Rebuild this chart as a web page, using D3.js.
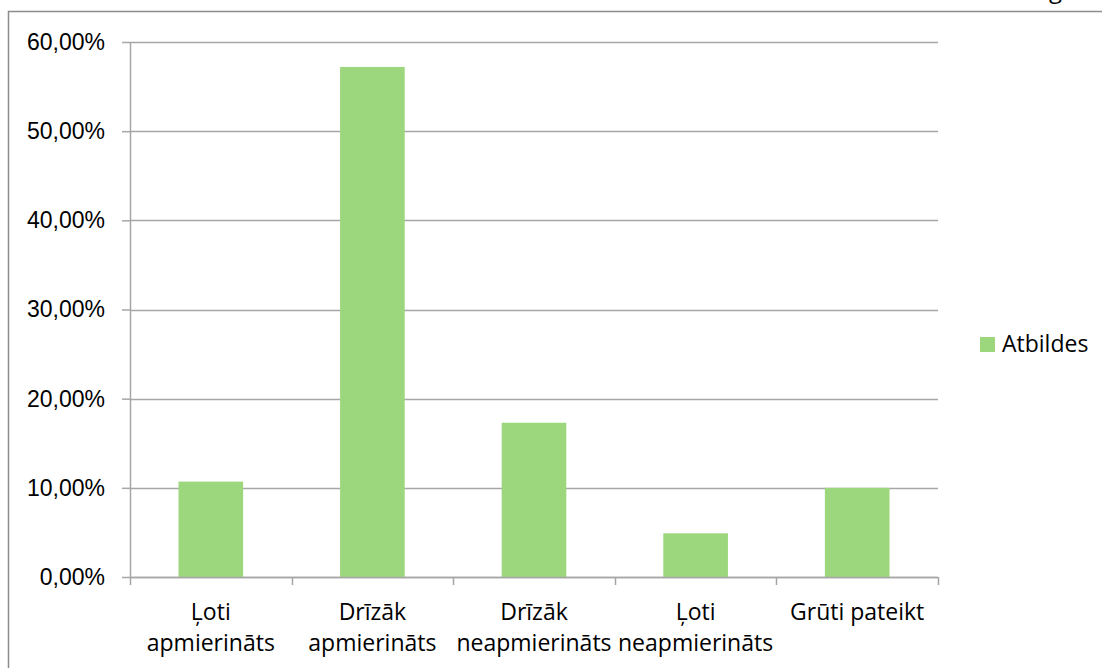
<!DOCTYPE html>
<html>
<head>
<meta charset="utf-8">
<script src="https://cdn.jsdelivr.net/npm/d3@7"></script>
<style>
  body { margin: 0; background: #fff; }
  svg { display: block; font-family: "Open Sans", "Noto Sans", sans-serif; }
  .tick-label { font-size: 23px; fill: #000; }
  .cat-label { font-size: 23px; fill: #000; }
</style>
</head>
<body>
<div id="chart"></div>
<script>
// data
var categories = [
    ["Ļoti", "apmierināts"],
    ["Drīzāk", "apmierināts"],
    ["Drīzāk", "neapmierināts"],
    ["Ļoti", "neapmierināts"],
    ["Grūti pateikt"]
];
var seriesName = "Atbildes";
var values = [0.107, 0.572, 0.173, 0.049, 0.100];
var yTicks = [0, 0.1, 0.2, 0.3, 0.4, 0.5, 0.6];

(function() {

    var outerWidth = 1102,
        outerHeight = 668;

    var margins = { top: 42, right: 164, bottom: 91, left: 130 };

    var width = outerWidth - margins.left - margins.right,
        height = outerHeight - margins.top - margins.bottom;

    var gridColor = "#a6a6a6",
        barColor = "#9dd77d";

    var svg = d3.select("#chart")
        .append("svg")
        .attr("width", outerWidth)
        .attr("height", outerHeight);

    // outer chart frame, cut off by the picture at right/bottom
    svg.append("rect")
        .attr("x", 8.5)
        .attr("y", 11.5)
        .attr("width", 1200)
        .attr("height", 800)
        .attr("fill", "none")
        .attr("stroke", "#8c8c8c")
        .attr("stroke-width", 1.5);

    // cropped title remnant
    svg.append("text")
        .attr("x", 1062)
        .attr("y", -2)
        .attr("text-anchor", "end")
        .style("font-size", "24px")
        .text("g");

    var g = svg.append("g")
        .attr("transform", "translate(" + margins.left + "," + margins.top + ")");

    var x = d3.scaleBand()
        .domain(d3.range(categories.length))
        .range([0, width])
        .paddingInner(0.6)
        .paddingOuter(0.3);

    var y = d3.scaleLinear()
        .domain([0, 0.6])
        .range([height, 0]);

    var fmt = function(v) { return d3.format(".2f")(v * 100).replace(".", ",") + "%"; };

    // gridlines
    g.selectAll("line.grid")
        .data(yTicks)
        .enter().append("line")
        .attr("class", "grid")
        .attr("x1", 0)
        .attr("x2", width)
        .attr("y1", function(d) { return Math.round(y(d)) + 0.5; })
        .attr("y2", function(d) { return Math.round(y(d)) + 0.5; })
        .attr("stroke", gridColor)
        .attr("stroke-width", 1.5);

    // y axis
    var yAxis = g.append("g")
        .call(d3.axisLeft(y).tickValues(yTicks).tickFormat(fmt).tickSize(8).tickPadding(17));
    yAxis.selectAll("line").attr("stroke", gridColor).attr("stroke-width", 1.5);
    yAxis.select(".domain").attr("stroke", gridColor).attr("stroke-width", 1.5).attr("d", "M0.5," + height + "V0");
    yAxis.selectAll("text")
        .attr("class", "tick-label")
        .style("font-family", "inherit")
        .style("font-size", "23px")
        .attr("fill", "#000");

    // bars
    g.selectAll("rect.bar")
        .data(values)
        .enter().append("rect")
        .attr("class", "bar")
        .attr("x", function(d, i) { return x(i); })
        .attr("width", x.bandwidth())
        .attr("y", function(d) { return y(d); })
        .attr("height", function(d) { return height - y(d); })
        .attr("fill", barColor);

    // x axis line and category boundary ticks
    var step = x.step();
    var bounds = d3.range(categories.length + 1).map(function(i) { return x(0) - step * 0.3 + i * step; });
    g.append("line")
        .attr("x1", 0).attr("x2", width)
        .attr("y1", height + 0.5).attr("y2", height + 0.5)
        .attr("stroke", gridColor).attr("stroke-width", 1.5);
    g.selectAll("line.xtick")
        .data(bounds)
        .enter().append("line")
        .attr("class", "xtick")
        .attr("x1", function(d) { return Math.round(d) + 0.5; })
        .attr("x2", function(d) { return Math.round(d) + 0.5; })
        .attr("y1", height)
        .attr("y2", height + 8)
        .attr("stroke", gridColor).attr("stroke-width", 1.5);

    // category labels
    var labels = g.selectAll("text.cat-label")
        .data(categories)
        .enter().append("text")
        .attr("class", "cat-label")
        .attr("text-anchor", "middle")
        .attr("x", function(d, i) { return x(i) + x.bandwidth() / 2; })
        .attr("y", height + 43);
    labels.selectAll("tspan")
        .data(function(d) { return d; })
        .enter().append("tspan")
        .attr("x", function() { return d3.select(this.parentNode).attr("x"); })
        .attr("dy", function(d, i) { return i === 0 ? 0 : 31; })
        .text(function(d) { return d; });

    // legend
    var legend = svg.append("g").attr("transform", "translate(980,337)");
    legend.append("rect")
        .attr("width", 15)
        .attr("height", 15)
        .attr("fill", barColor);
    legend.append("text")
        .attr("x", 22)
        .attr("y", 15)
        .style("font-size", "23px")
        .text(seriesName);

})();
</script>
</body>
</html>
